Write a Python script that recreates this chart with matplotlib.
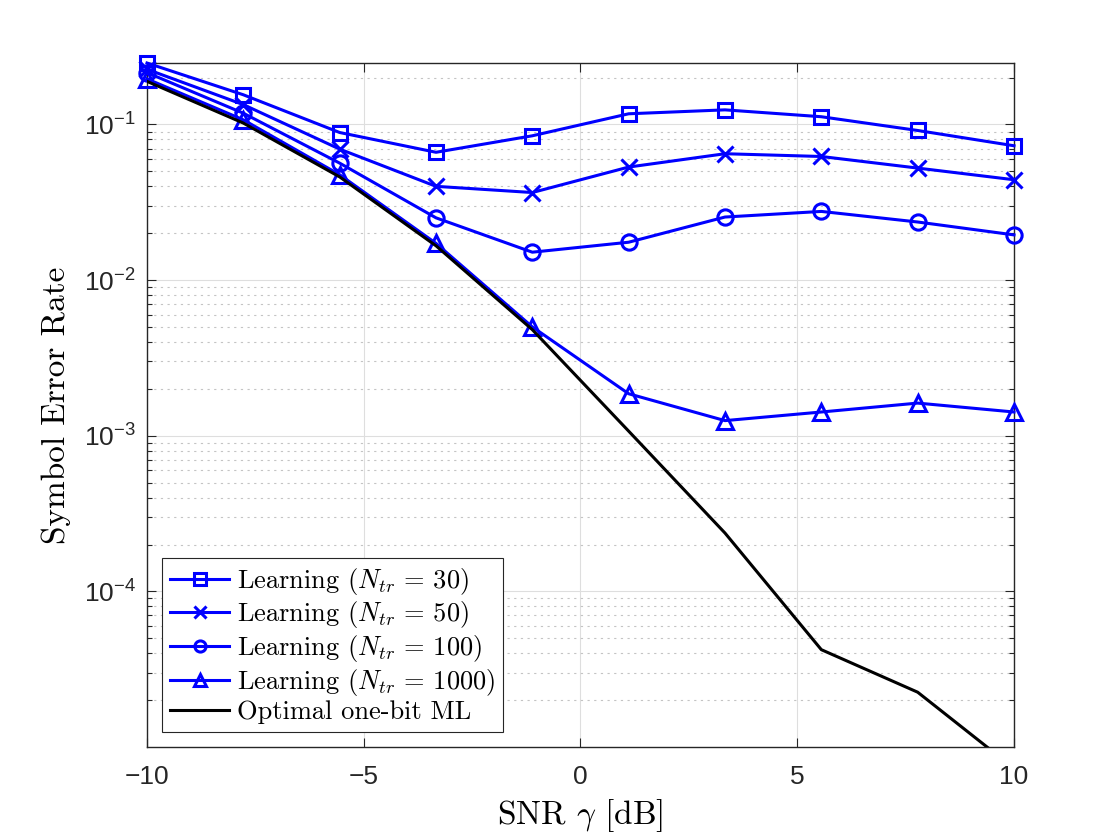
import matplotlib
matplotlib.use("Agg")
import matplotlib.pyplot as plt
from matplotlib.ticker import LogLocator, NullFormatter, FixedLocator

plt.rcParams['font.family'] = ['Liberation Sans', 'DejaVu Sans']
plt.rcParams['mathtext.fontset'] = 'cm'

# SNR grid (dB) and symbol error rates
snr_db = [-10, -7.778, -5.556, -3.333, -1.111, 1.111, 3.333, 5.556, 7.778, 10]
ser_30 = [0.248, 0.155, 0.0887, 0.0662, 0.0845, 0.117, 0.124, 0.112, 0.0914, 0.0729]
ser_50 = [0.226, 0.134, 0.0694, 0.0400, 0.0365, 0.0532, 0.0648, 0.0622, 0.0524, 0.0441]
ser_100 = [0.215, 0.118, 0.0564, 0.0251, 0.0151, 0.0175, 0.0254, 0.0276, 0.0236, 0.0195]
ser_1000 = [0.196, 0.107, 0.0475, 0.0172, 0.0050, 0.00186, 0.00125, 0.00142, 0.00162, 0.00142]
ser_ml = [0.189, 0.102, 0.046, 0.0166, 0.0048, 0.00107, 2.37e-4, 4.22e-5, 2.25e-5, 7.3e-6]

labels = [r'Learning ($N_{tr}\,=\,30$)', r'Learning ($N_{tr}\,=\,50$)',
          r'Learning ($N_{tr}\,=\,100$)', r'Learning ($N_{tr}\,=\,1000$)',
          'Optimal one-bit ML']
x_ticks = [-10, -5, 0, 5, 10]

fig = plt.figure(figsize=(11.2, 8.4), dpi=100)
ax = fig.add_axes([0.13125, 0.1107, 0.7741, 0.8143])

blue = (0, 0, 1)
lw = 2.2
style = dict(color=blue, lw=lw, mew=lw, mfc='none', clip_on=False, zorder=3)
ax.plot(snr_db, ser_30, marker='s', ms=9.5, label=labels[0], **style)
ax.plot(snr_db, ser_50, marker='x', ms=11, label=labels[1], **style)
ax.plot(snr_db, ser_100, marker='o', ms=11, label=labels[2], **style)
ax.plot(snr_db, ser_1000, marker='^', ms=11.5, label=labels[3], **style)
ax.plot(snr_db, ser_ml, color='k', lw=lw, label=labels[4], zorder=3)

ax.set_yscale('log')
ax.set_xlim(-10, 10)
ax.set_ylim(1e-5, max(ser_30))
ax.xaxis.set_major_locator(FixedLocator(x_ticks))
ax.yaxis.set_major_locator(LogLocator(base=10, numticks=10))
ax.yaxis.set_minor_locator(LogLocator(base=10, subs=range(2, 10), numticks=20))
ax.yaxis.set_minor_formatter(NullFormatter())

# MATLAB-like axes
axcol = '#262626'
for s in ax.spines.values():
    s.set_color(axcol)
    s.set_linewidth(1.0)
ax.tick_params(which='both', direction='in', top=True, right=True,
               colors=axcol, width=0.8)
ax.tick_params(which='major', length=6.5, labelsize=19)
ax.tick_params(axis='x', which='major', pad=13)
ax.tick_params(axis='y', which='major', pad=8)
ax.tick_params(which='minor', length=3.6)
ax.set_yticks([1e-4, 1e-3, 1e-2, 1e-1])

ax.grid(True, which='major', color='#dedede', lw=0.8, ls='-')
ax.grid(True, which='minor', axis='y', color='#c4c4c4', lw=0.8, ls=(0, (2, 4)))
ax.set_axisbelow(True)

ax.set_xlabel(r'SNR $\gamma$ [dB]', fontfamily='cmr10', fontsize=24, labelpad=6)
ax.set_ylabel('Symbol Error Rate', fontfamily='cmr10', fontsize=24, labelpad=9)

leg = ax.legend(loc='lower left', bbox_to_anchor=(0.0173, 0.0219), borderaxespad=0,
                prop={'family': 'cmr10', 'size': 19}, numpoints=1,
                handlelength=2.25, handletextpad=0.3, labelspacing=0.1,
                borderpad=0.3, fancybox=False, framealpha=1, edgecolor=axcol)
leg.get_frame().set_linewidth(0.8)
for h in leg.legend_handles:
    h.set_markersize(8)

fig.savefig('out.png', dpi=100)
